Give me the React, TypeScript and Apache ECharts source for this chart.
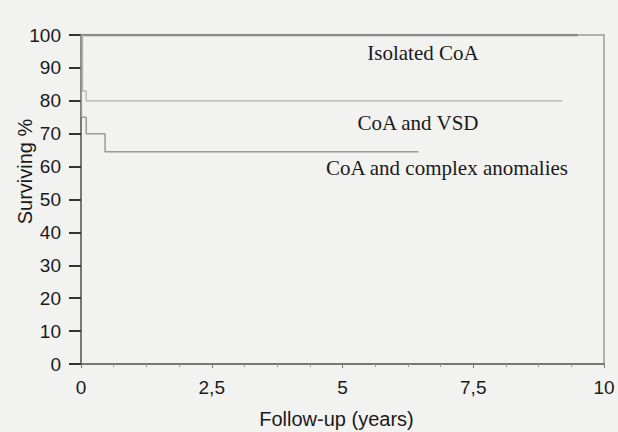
import React, { useEffect, useRef } from "react";
import * as echarts from "echarts";

const xTicks = [0, 2.5, 5, 7.5, 10];
const yTicks = [0, 10, 20, 30, 40, 50, 60, 70, 80, 90, 100];
const isolatedCoA: [number, number][] = [[0, 100], [9.5, 100]];
const coaVsd: [number, number][] = [[0, 100], [0.03, 83], [0.1, 80], [9.2, 80]];
const coaComplex: [number, number][] = [[0, 100], [0.01, 75], [0.1, 70], [0.46, 64.5], [6.45, 64.5]];
const seriesNames = ["Isolated CoA", "CoA and VSD", "CoA and complex anomalies"];

export default function App() {
  const ref = useRef<HTMLDivElement>(null);
  useEffect(() => {
    document.body.style.margin = "0";
    const chart = echarts.init(ref.current!, null, { renderer: "svg" });
    const sans = "Liberation Sans, Arial, sans-serif";
    const serif = "Liberation Serif, Times New Roman, serif";
    chart.setOption({
      animation: false,
      backgroundColor: "#f2f2f0",
      grid: { left: 81, right: 14, top: 35, bottom: 68, containLabel: false, outerBoundsMode: "none", show: true, borderColor: "#9a9a9a", borderWidth: 1.5, backgroundColor: "transparent" },
      xAxis: {
        type: "value", min: xTicks[0], max: xTicks[xTicks.length - 1], interval: 2.5,
        name: "Follow-up (years)", nameLocation: "middle", nameGap: 45, nameMoveOverlap: false,
        nameTextStyle: { fontFamily: sans, fontSize: 20, color: "#1a1a1a", padding: [0, 12, 0, 0] },
        axisLine: { lineStyle: { color: "#666", width: 1.5 } },
        axisTick: { show: true, length: 4, lineStyle: { color: "#777" } },
        minorTick: { show: true, splitNumber: 4, length: 3, lineStyle: { color: "#999" } },
        axisLabel: { fontFamily: sans, fontSize: 19, color: "#1a1a1a", margin: 14, formatter: (v: number) => String(v).replace(".", ",") },
        splitLine: { show: false },
      },
      yAxis: {
        type: "value", min: yTicks[0], max: yTicks[yTicks.length - 1], interval: 10,
        name: "Surviving %", nameLocation: "middle", nameGap: 46, nameMoveOverlap: false,
        nameTextStyle: { fontFamily: sans, fontSize: 20, color: "#1a1a1a", padding: [0, 0, 0, 56] },
        axisLine: { show: true, lineStyle: { color: "#666", width: 1.5 } },
        axisTick: { show: true, length: 12, lineStyle: { color: "#333", width: 2 } },
        axisLabel: { fontFamily: sans, fontSize: 19, color: "#1a1a1a", margin: 20 },
        splitLine: { show: false },
      },
      series: [
        { name: seriesNames[0], type: "line", step: "end", data: isolatedCoA, showSymbol: false, lineStyle: { color: "#8a8a8a", width: 2.5 } },
        { name: seriesNames[1], type: "line", step: "end", data: coaVsd, showSymbol: false, lineStyle: { color: "#b0b0b0", width: 1.2 } },
        { name: seriesNames[2], type: "line", step: "end", data: coaComplex, showSymbol: false, lineStyle: { color: "#9a9a9a", width: 1.5 } },
      ],
      graphic: [
        { type: "text", x: 423, y: 53, style: { text: seriesNames[0], fontFamily: serif, fontSize: 21, fill: "#1a1a1a", align: "center", verticalAlign: "middle" } },
        { type: "text", x: 418, y: 123, style: { text: seriesNames[1], fontFamily: serif, fontSize: 21, fill: "#1a1a1a", align: "center", verticalAlign: "middle" } },
        { type: "text", x: 447, y: 168, style: { text: seriesNames[2], fontFamily: serif, fontSize: 21, fill: "#1a1a1a", align: "center", verticalAlign: "middle" } },
      ],
    });
    return () => chart.dispose();
  }, []);
  return <div ref={ref} style={{ width: 618, height: 432 }} />;
}
